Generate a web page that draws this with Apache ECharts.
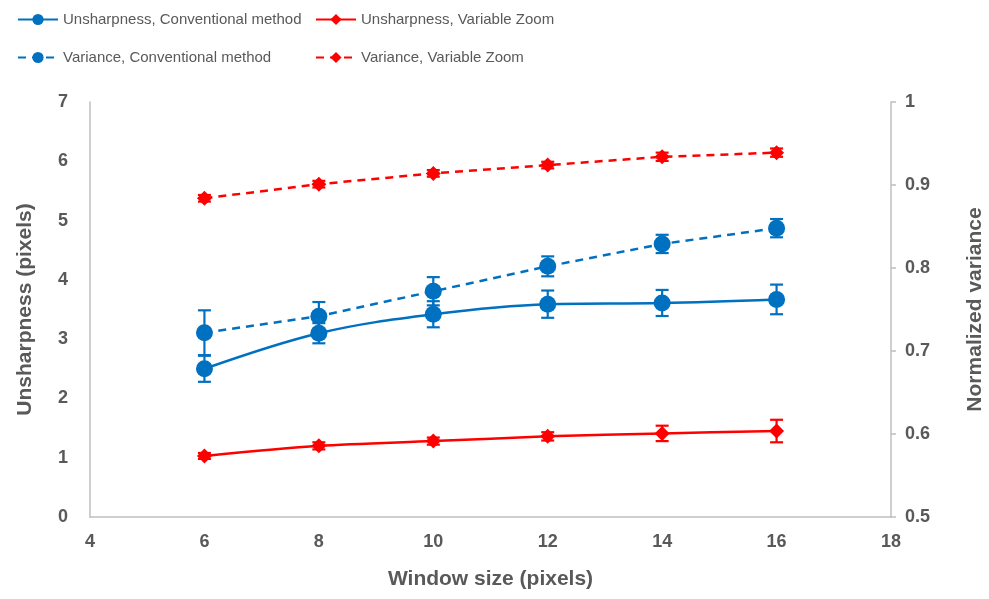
<!DOCTYPE html>
<html>
  <head>
    <meta charset="utf-8" />
    <title>Unsharpness and variance vs window size</title>
    <script src="https://cdn.jsdelivr.net/npm/echarts@6/dist/echarts.min.js"></script>
  </head>
  <body style="margin: 0; background: #fff">
    <div id="main" style="width: 989px; height: 599px"></div>
    <script type="text/javascript">
      var chart = echarts.init(document.getElementById('main'));

      // window sizes (x)
      var windowSizes = [6, 8, 10, 12, 14, 16];

      // unsharpness, left axis
      var unshConv = [2.5, 3.1, 3.42, 3.59, 3.61, 3.67];
      var unshConvErr = [0.22, 0.17, 0.22, 0.23, 0.22, 0.25];
      var unshVZ = [1.03, 1.2, 1.28, 1.36, 1.41, 1.45];
      var unshVZErr = [0.05, 0.06, 0.06, 0.07, 0.13, 0.19];

      // normalized variance, right axis
      var varConv = [0.722, 0.742, 0.772, 0.802, 0.829, 0.848];
      var varConvErr = [0.027, 0.017, 0.017, 0.012, 0.011, 0.011];
      var varVZ = [0.884, 0.901, 0.914, 0.924, 0.934, 0.939];
      var varVZErr = [0.004, 0.004, 0.004, 0.004, 0.005, 0.005];

      var names = [
        'Unsharpness, Conventional method',
        'Variance, Conventional method',
        'Unsharpness, Variable Zoom',
        'Variance, Variable Zoom',
      ];

      var BLUE = '#0070c0';
      var RED = '#ff0000';
      var GREY = '#595959';
      var AXIS = '#bfbfbf';
      var FONT = 'Liberation Sans, Arial, sans-serif';

      function pairs(vals) {
        return windowSizes.map(function (x, i) {
          return [x, vals[i]];
        });
      }

      function errData(vals, errs) {
        return windowSizes.map(function (x, i) {
          return [x, vals[i] - errs[i], vals[i] + errs[i]];
        });
      }

      // vertical error bar with caps
      function errorBar(color) {
        return function (params, api) {
          var x = api.value(0);
          var top = api.coord([x, api.value(2)]);
          var bot = api.coord([x, api.value(1)]);
          var w = 6.5;
          var style = { stroke: color, lineWidth: 2.2 };
          return {
            type: 'group',
            children: [
              { type: 'line', shape: { x1: top[0], y1: top[1], x2: bot[0], y2: bot[1] }, style: style },
              { type: 'line', shape: { x1: top[0] - w, y1: top[1], x2: top[0] + w, y2: top[1] }, style: style },
              { type: 'line', shape: { x1: bot[0] - w, y1: bot[1], x2: bot[0] + w, y2: bot[1] }, style: style },
            ],
          };
        };
      }

      function lineSeries(name, vals, color, symbol, size, yIdx, dashed, smooth) {
        return {
          name: name,
          type: 'line',
          yAxisIndex: yIdx,
          data: pairs(vals),
          symbol: symbol,
          symbolSize: size,
          smooth: smooth,
          z: 3,
          itemStyle: { color: color },
          lineStyle: { color: color, width: 2.5, type: dashed ? [8, 6] : 'solid' },
        };
      }

      function errSeries(vals, errs, color, yIdx) {
        return {
          type: 'custom',
          yAxisIndex: yIdx,
          data: errData(vals, errs),
          renderItem: errorBar(color),
          z: 4,
          silent: true,
        };
      }

      function legendAt(name, left, top) {
        return {
          data: [name],
          left: left,
          top: top,
          itemWidth: 40,
          itemHeight: 14,
          itemGap: 0,
          textStyle: { color: GREY, fontSize: 15, fontFamily: FONT },
        };
      }

      var option = {
        animation: false,
        backgroundColor: '#fff',
        legend: [
          legendAt(names[0], 12, 7),
          legendAt(names[1], 12, 45),
          legendAt(names[2], 310, 7),
          legendAt(names[3], 310, 45),
        ],
        grid: { left: 90, right: 98, top: 102, bottom: 82, outerBoundsMode: 'none' },
        xAxis: {
          type: 'value',
          min: 4,
          max: 18,
          interval: 2,
          name: 'Window size (pixels)',
          nameLocation: 'middle',
          nameGap: 52,
          nameTextStyle: { color: GREY, fontSize: 21, fontWeight: 'bold', fontFamily: FONT },
          axisLine: { lineStyle: { color: AXIS, width: 1.5 } },
          axisTick: { show: false },
          splitLine: { show: false },
          axisLabel: { color: GREY, fontSize: 18, fontWeight: 'bold', fontFamily: FONT, margin: 16 },
        },
        yAxis: [
          {
            type: 'value',
            min: 0,
            max: 7,
            interval: 1,
            name: 'Unsharpness (pixels)',
            nameLocation: 'middle',
            nameGap: 54,
            nameTextStyle: { color: GREY, fontSize: 21, fontWeight: 'bold', fontFamily: FONT },
            axisLine: { show: true, lineStyle: { color: AXIS, width: 1.5 } },
            axisTick: { show: false },
            splitLine: { show: false },
            axisLabel: { color: GREY, fontSize: 18, fontWeight: 'bold', fontFamily: FONT, margin: 22 },
          },
          {
            type: 'value',
            position: 'right',
            min: 0.5,
            max: 1,
            interval: 0.1,
            name: 'Normalized variance',
            nameLocation: 'middle',
            nameGap: 74,
            nameRotate: 90,
            nameTextStyle: { color: GREY, fontSize: 21, fontWeight: 'bold', fontFamily: FONT },
            axisLine: { show: true, lineStyle: { color: AXIS, width: 1.5 } },
            axisTick: { show: true, length: 5, lineStyle: { color: AXIS, width: 1.5 } },
            splitLine: { show: false },
            axisLabel: {
              color: GREY,
              fontSize: 18,
              fontWeight: 'bold',
              fontFamily: FONT,
              margin: 14,
              formatter: function (v) {
                return String(Math.round(v * 10) / 10);
              },
            },
          },
        ],
        series: [
          lineSeries(names[0], unshConv, BLUE, 'circle', 17, 0, false, 0.35),
          lineSeries(names[1], varConv, BLUE, 'circle', 17, 1, true, false),
          lineSeries(names[2], unshVZ, RED, 'diamond', 15, 0, false, 0.3),
          lineSeries(names[3], varVZ, RED, 'diamond', 15, 1, true, false),
          errSeries(unshConv, unshConvErr, BLUE, 0),
          errSeries(varConv, varConvErr, BLUE, 1),
          errSeries(unshVZ, unshVZErr, RED, 0),
          errSeries(varVZ, varVZErr, RED, 1),
        ],
      };

      chart.setOption(option);
    </script>
  </body>
</html>
